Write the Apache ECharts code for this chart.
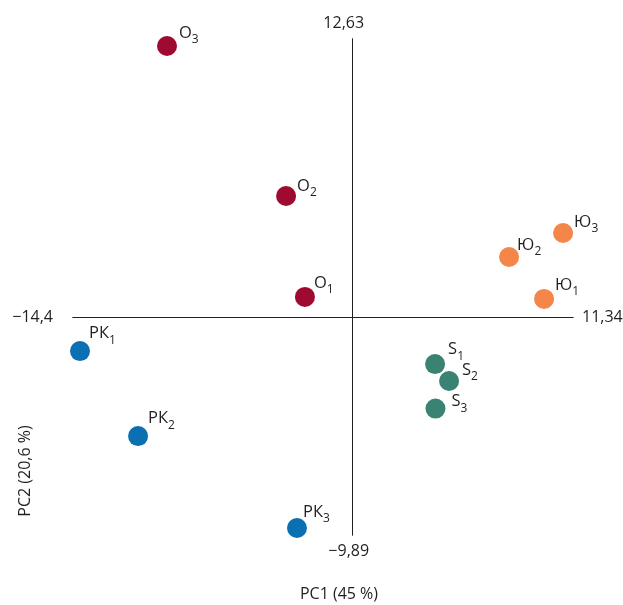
<!DOCTYPE html>
<html>
<head>
<meta charset="utf-8">
<script src="https://cdn.jsdelivr.net/npm/echarts@6/dist/echarts.min.js"></script>
<style>
html,body{margin:0;padding:0;background:#fff;}
#chart{width:623px;height:605px;}
</style>
</head>
<body>
<div id="chart"></div>
<script>
// ---- data ----
const xRange = [-14.4, 11.34];
const yRange = [-9.89, 12.63];
const xTickLabels = ['\u221214,4', '11,34'];
const yTickLabels = ['\u22129,89', '12,63'];
const xTitle = 'PC1 (45 %)';
const yTitle = 'PC2 (20,6 %)';

const groupNames = ['О', 'РК', 'S', 'Ю'];
const subscripts = ['1', '2', '3'];
const oX = [-2.46, -3.43, -9.56];
const oY = [0.92, 5.50, 12.31];
const rkX = [-14.04, -11.05, -2.87];
const rkY = [-1.54, -5.40, -9.57];
const sX = [4.24, 4.96, 4.26];
const sY = [-2.13, -2.90, -4.15];
const yuX = [9.85, 8.05, 10.83];
const yuY = [0.83, 2.73, 3.82];

// ---- layout / style ----
const groupColors = ['#9f0a31', '#0a70b2', '#3a8373', '#f4864a'];
const labelOffsets = [
  [[9, -14], [11, -10], [12, -13]],
  [[9, -18], [10, -18], [6, -16]],
  [[13, -15], [13, -11], [16, -7]],
  [[11, -14], [8, -12], [11, -11]]
];
const textColor = '#231f20';
const FONT = '"Open Sans", "Noto Sans", sans-serif';
const SYM = 20;

const xs = [oX, rkX, sX, yuX];
const ys = [oY, rkY, sY, yuY];

const series = groupNames.map((g, gi) => ({
  type: 'scatter',
  name: g,
  symbol: 'circle',
  symbolSize: SYM,
  itemStyle: { color: groupColors[gi], opacity: 1 },
  label: {
    show: true,
    align: 'left',
    verticalAlign: 'middle',
    color: textColor,
    fontFamily: FONT,
    formatter: (p) => '{m|' + g + '}{s|' + subscripts[p.dataIndex] + '}',
    rich: {
      m: { fontSize: 16.5, lineHeight: 26, color: textColor, fontFamily: FONT },
      s: { fontSize: 12, lineHeight: 12, verticalAlign: 'bottom', color: textColor, fontFamily: FONT }
    }
  },
  emphasis: { disabled: true },
  data: xs[gi].map((x, i) => ({
    value: [x, ys[gi][i]],
    label: { position: [SYM / 2 + labelOffsets[gi][i][0], SYM / 2 + labelOffsets[gi][i][1]] }
  }))
}));

const nameStyle = { color: textColor, fontSize: 16, fontFamily: FONT };
const baseAxis = {
  type: 'value',
  axisLine: { show: true, onZero: true, lineStyle: { color: textColor, width: 1 } },
  axisTick: { show: false },
  axisLabel: { show: false },
  splitLine: { show: false }
};

const chart = echarts.init(document.getElementById('chart'), null, { renderer: 'canvas' });
chart.setOption({
  animation: false,
  backgroundColor: '#ffffff',
  grid: { left: 73, right: 50, top: 39, bottom: 70, containLabel: false, outerBoundsMode: 'none' },
  xAxis: [
    Object.assign({}, baseAxis, {
      min: xRange[0], max: xRange[1],
      name: xTickLabels[0], nameLocation: 'start', nameGap: 20, nameTextStyle: nameStyle
    }),
    Object.assign({}, baseAxis, {
      min: xRange[0], max: xRange[1],
      name: xTickLabels[1], nameLocation: 'end', nameGap: 9, nameTextStyle: nameStyle
    })
  ],
  yAxis: [
    Object.assign({}, baseAxis, {
      min: yRange[0], max: yRange[1],
      name: yTickLabels[1], nameLocation: 'end', nameGap: 8,
      nameTextStyle: Object.assign({}, nameStyle, { padding: [0, 18, 0, 0] })
    }),
    Object.assign({}, baseAxis, {
      min: yRange[0], max: yRange[1],
      name: yTickLabels[0], nameLocation: 'start', nameGap: 8,
      nameTextStyle: Object.assign({}, nameStyle, { padding: [0, 8, 0, 0] })
    })
  ],
  graphic: [
    {
      type: 'text', x: 339, y: 594,
      style: { text: xTitle, fill: textColor, font: '16px ' + FONT, align: 'center', verticalAlign: 'middle' }
    },
    {
      type: 'text', x: 25, y: 471, rotation: Math.PI / 2,
      style: { text: yTitle, fill: textColor, font: '16px ' + FONT, align: 'center', verticalAlign: 'middle' }
    }
  ],
  series: series
});
</script>
</body>
</html>
